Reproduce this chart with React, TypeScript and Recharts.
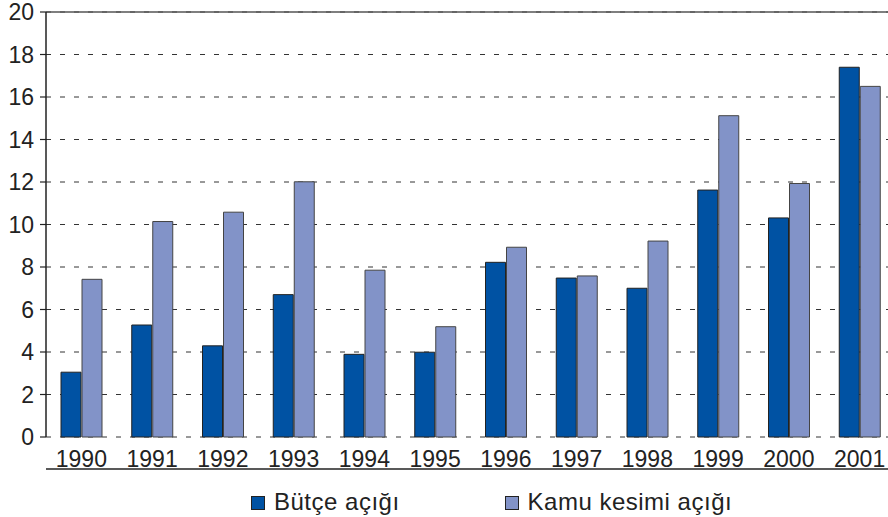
import { Bar, BarChart, CartesianGrid, Legend, ReferenceLine, XAxis, YAxis } from "recharts";

const years = ["1990", "1991", "1992", "1993", "1994", "1995", "1996", "1997", "1998", "1999", "2000", "2001"];
const butceAcigi = [3.05, 5.27, 4.29, 6.7, 3.89, 3.99, 8.22, 7.48, 7.0, 11.62, 10.31, 17.4];
const kamuKesimiAcigi = [7.42, 10.14, 10.58, 12.01, 7.85, 5.19, 8.93, 7.58, 9.22, 15.12, 11.93, 16.5];
const yTicks = [0, 2, 4, 6, 8, 10, 12, 14, 16, 18, 20];
const edgeTicks = [0, 1, 2, 3, 4, 5, 6, 7, 8, 9, 10, 11, 12];

const data = years.map((year, i) => ({
  year,
  butce: butceAcigi[i],
  kamu: kamuKesimiAcigi[i],
}));

const FONT = "'Liberation Sans', Arial, Helvetica, sans-serif";
const DARK = "#0052A3";
const LIGHT = "#8293C8";

function ChartLegend() {
  const items = [
    { label: "Bütçe açığı", color: DARK },
    { label: "Kamu kesimi açığı", color: LIGHT },
  ];
  return (
    <div
      style={{
        display: "flex",
        paddingLeft: 251,
        paddingTop: 15,
        fontFamily: FONT,
        fontSize: 24,
        lineHeight: "24px",
        letterSpacing: 0.5,
        color: "#222",
      }}
    >
      {items.map((it, i) => (
        <div key={it.label} style={{ display: "flex", alignItems: "center", marginRight: i === 0 ? 105 : 0 }}>
          <span
            style={{
              width: 12,
              height: 12,
              background: it.color,
              border: "1px solid #222",
              marginRight: 9,
              position: "relative",
              top: 1,
            }}
          />
          <span>{it.label}</span>
        </div>
      ))}
    </div>
  );
}

export default function App() {
  return (
    <div style={{ position: "absolute", left: 0, top: 0, width: 888, height: 517, overflow: "hidden", background: "#fff" }}>
      <BarChart
        width={896}
        height={517}
        data={data}
        margin={{ top: 12, right: 1, bottom: 0, left: 0 }}
        barSize={20}
        barGap={1}
      >
        <CartesianGrid xAxisId="cat" vertical={false} stroke="#333" strokeDasharray="5 9" />
        <ReferenceLine xAxisId="cat" y={20} stroke="#555" strokeWidth={1.5} />
        <XAxis
          xAxisId="edge"
          type="number"
          domain={[0, 12]}
          ticks={edgeTicks}
          height={6}
          tick={false}
          tickSize={6}
          axisLine={{ stroke: "#222", strokeWidth: 1.5 }}
          tickLine={{ stroke: "#222", strokeWidth: 1.2 }}
        />
        <XAxis
          xAxisId="cat"
          dataKey="year"
          height={32}
          axisLine={false}
          tickLine={false}
          tickSize={0}
          tickMargin={14}
          interval={0}
          tick={{ fill: "#222", fontSize: 23, fontFamily: FONT }}
        />
        <YAxis
          width={46}
          domain={[0, 20]}
          ticks={yTicks}
          interval={0}
          tickSize={6}
          tickMargin={6}
          axisLine={{ stroke: "#222", strokeWidth: 1.5 }}
          tickLine={{ stroke: "#222", strokeWidth: 1.2 }}
          tick={{ fill: "#222", fontSize: 23, fontFamily: FONT }}
        />
        <Legend verticalAlign="bottom" height={42} content={() => <ChartLegend />} />
        <Bar xAxisId="cat" dataKey="butce" name="Bütçe açığı" fill={DARK} stroke="#222" strokeWidth={1} isAnimationActive={false} />
        <Bar xAxisId="cat" dataKey="kamu" name="Kamu kesimi açığı" fill={LIGHT} stroke="#444" strokeWidth={1} isAnimationActive={false} />
      </BarChart>
    </div>
  );
}
